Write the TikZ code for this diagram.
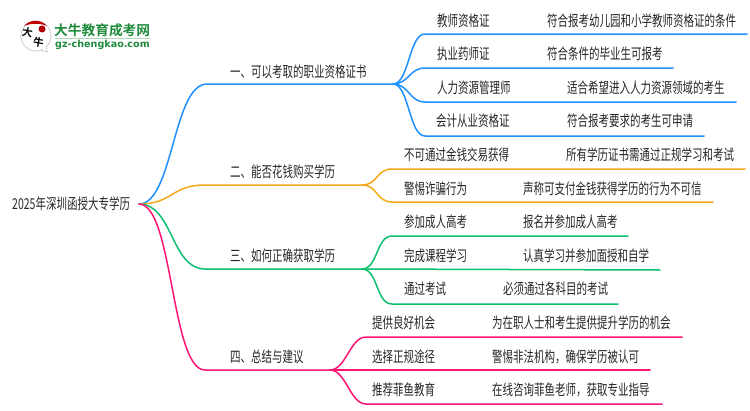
\documentclass[tikz,border=0pt]{standalone}
\usepackage{fontspec}
\usepackage{xcolor}
\setmainfont{Liberation Sans}
\newfontfamily\cjk[FakeStretch=0.7]{Noto Sans CJK SC}
\newfontfamily\logofont[BoldFont={Noto Sans CJK SC Bold}]{Noto Sans CJK SC}
\newfontfamily\urlfont{DejaVu Sans}
\usetikzlibrary{positioning}
\definecolor{certblue}{HTML}{1E90FF}
\definecolor{buyorange}{HTML}{F5A81C}
\definecolor{waygreen}{HTML}{0BBF6E}
\definecolor{tippink}{HTML}{FF1474}
\definecolor{logogreen}{HTML}{1F8A3C}
\definecolor{labelgray}{HTML}{262626}

\begin{document}
\begin{tikzpicture}[x=1pt, y=-1pt,
    label/.style={anchor=west, inner sep=0pt, text=labelgray, font=\cjk\fontsize{15}{15}\selectfont},
    curve/.style={to path={.. controls +(#1,0) and +(-#1,0) .. (\tikztotarget)}},
    curve/.default=16,
    link/.style={line width=1.5pt, line cap=round}]

    \useasboundingbox (0,0) rectangle (750,410);

    % Logo
    \draw[gray!40, line width=0.8pt] (36,36) circle[radius=15pt];
    \fill[white] (41,48) -- (47.5,52) -- (45,44) -- cycle;
    \draw[gray!40, line width=0.8pt] (41,50.5) -- (47.5,52) -- (46,47);
    \fill[red!75!black] (24,26) .. controls (30,19) and (41,19) .. (47,26) .. controls (40,23) and (31,23) .. cycle;
    \fill[red!70!black] (42,29) circle[radius=3.5pt];
    \node[inner sep=0pt, rotate=-10, font=\logofont\bfseries\fontsize{10.5}{11}\selectfont] (LogoBig) at (27.5,32.5) {大};
    \node[inner sep=0pt, rotate=-10, font=\logofont\bfseries\fontsize{10.5}{11}\selectfont] (LogoOx) at (38.5,42.5) {牛};
    \node[anchor=west, inner sep=0pt, text=logogreen, font=\logofont\bfseries\fontsize{13.7}{14}\selectfont] (LogoName) at (54,30) {大牛教育成考网};
    \node[anchor=west, inner sep=0pt, text=logogreen, font=\urlfont\bfseries\fontsize{9.6}{10}\selectfont] (LogoUrl) at (55,45) {gz-chengkao.com};
    \coordinate (LogoRuleA) at (55,38.5);
    \coordinate (LogoRuleB) at (150,38.5);
    \draw[logogreen!35, line width=0.8pt] (LogoRuleA) -- (LogoRuleB);

    % Root
    \node[label] (Root) at (12,204) {2025年深圳函授大专学历};
    \coordinate (RootOut) at (139,204);

    % Branch one
    \node[label] (Cert) at (230,72) {一、可以考取的职业资格证书};
    \coordinate (CertIn) at (207,84);
    \coordinate (CertFork) at (393,84);
    \draw[link, certblue] (RootOut) to[curve=34] (CertIn) -- (CertFork);

    \node[label] (Teacher) at (437,21) {教师资格证};
    \node[label] (TeacherNote) at (547,21) {符合报考幼儿园和小学教师资格证的条件};
    \node[label] (Pharma) at (437,54) {执业药师证};
    \node[label] (PharmaNote) at (547,54) {符合条件的毕业生可报考};
    \node[label] (Hr) at (437,88) {人力资源管理师};
    \node[label] (HrNote) at (567,88) {适合希望进入人力资源领域的考生};
    \node[label] (Account) at (436,121) {会计从业资格证};
    \node[label] (AccountNote) at (567,121) {符合报考要求的考生可申请};

    \coordinate (TeacherIn) at (425,34);
    \coordinate (TeacherEnd) at (747,34);
    \coordinate (PharmaIn) at (425,68);
    \coordinate (PharmaEnd) at (673,68);
    \coordinate (HrIn) at (425,102);
    \coordinate (HrEnd) at (736,102);
    \coordinate (AccountIn) at (425,136);
    \coordinate (AccountEnd) at (704,136);
    \draw[link, certblue] (CertFork) to[curve] (TeacherIn) -- (TeacherEnd);
    \draw[link, certblue] (CertFork) to[curve] (PharmaIn) -- (PharmaEnd);
    \draw[link, certblue] (CertFork) to[curve] (HrIn) -- (HrEnd);
    \draw[link, certblue] (CertFork) to[curve] (AccountIn) -- (AccountEnd);

    % Branch two
    \node[label] (Buy) at (230,172) {二、能否花钱购买学历};
    \coordinate (BuyIn) at (205,185);
    \coordinate (BuyFork) at (362,185);
    \draw[link, buyorange] (RootOut) to[curve=34] (BuyIn) -- (BuyFork);

    \node[label] (Money) at (404,155) {不可通过金钱交易获得};
    \node[label] (MoneyNote) at (566,155) {所有学历证书需通过正规学习和考试};
    \node[label] (Fraud) at (404,189) {警惕诈骗行为};
    \node[label] (FraudNote) at (523,189) {声称可支付金钱获得学历的行为不可信};

    \coordinate (MoneyIn) at (392,169);
    \coordinate (MoneyEnd) at (745,169);
    \coordinate (FraudIn) at (392,202);
    \coordinate (FraudEnd) at (713,202);
    \draw[link, buyorange] (BuyFork) to[curve] (MoneyIn) -- (MoneyEnd);
    \draw[link, buyorange] (BuyFork) to[curve] (FraudIn) -- (FraudEnd);

    % Branch three
    \node[label] (Way) at (230,256) {三、如何正确获取学历};
    \coordinate (WayIn) at (205,269);
    \coordinate (WayFork) at (362,269);
    \draw[link, waygreen] (RootOut) to[curve=34] (WayIn) -- (WayFork);

    \node[label] (Exam) at (404,222) {参加成人高考};
    \node[label] (ExamNote) at (523,222) {报名并参加成人高考};
    \node[label] (Course) at (404,256) {完成课程学习};
    \node[label] (CourseNote) at (523,256) {认真学习并参加面授和自学};
    \node[label] (Pass) at (404,289) {通过考试};
    \node[label] (PassNote) at (503,289) {必须通过各科目的考试};

    \coordinate (ExamIn) at (392,236);
    \coordinate (ExamEnd) at (628,236);
    \coordinate (CourseEnd) at (660,270);
    \coordinate (PassIn) at (392,304);
    \coordinate (PassEnd) at (618,304);
    \draw[link, waygreen] (WayFork) to[curve] (ExamIn) -- (ExamEnd);
    \draw[link, waygreen] (WayFork) -- (CourseEnd);
    \draw[link, waygreen] (WayFork) to[curve] (PassIn) -- (PassEnd);

    % Branch four
    \node[label] (Tips) at (230,357) {四、总结与建议};
    \coordinate (TipsIn) at (205,370);
    \coordinate (TipsFork) at (330,370);
    \draw[link, tippink] (RootOut) to[curve=34] (TipsIn) -- (TipsFork);

    \node[label] (Chance) at (372,323) {提供良好机会};
    \node[label] (ChanceNote) at (492,323) {为在职人士和考生提供提升学历的机会};
    \node[label] (Formal) at (372,357) {选择正规途径};
    \node[label] (FormalNote) at (492,357) {警惕非法机构，确保学历被认可};
    \node[label] (Advice) at (372,390) {推荐菲鱼教育};
    \node[label] (AdviceNote) at (492,390) {在线咨询菲鱼老师，获取专业指导};

    \coordinate (ChanceIn) at (366,337);
    \coordinate (ChanceEnd) at (682,337);
    \coordinate (FormalEnd) at (650,370);
    \coordinate (AdviceIn) at (366,404);
    \coordinate (AdviceEnd) at (662,404);
    \draw[link, tippink] (TipsFork) to[curve] (ChanceIn) -- (ChanceEnd);
    \draw[link, tippink] (TipsFork) -- (FormalEnd);
    \draw[link, tippink] (TipsFork) to[curve] (AdviceIn) -- (AdviceEnd);

\end{tikzpicture}
\end{document}
